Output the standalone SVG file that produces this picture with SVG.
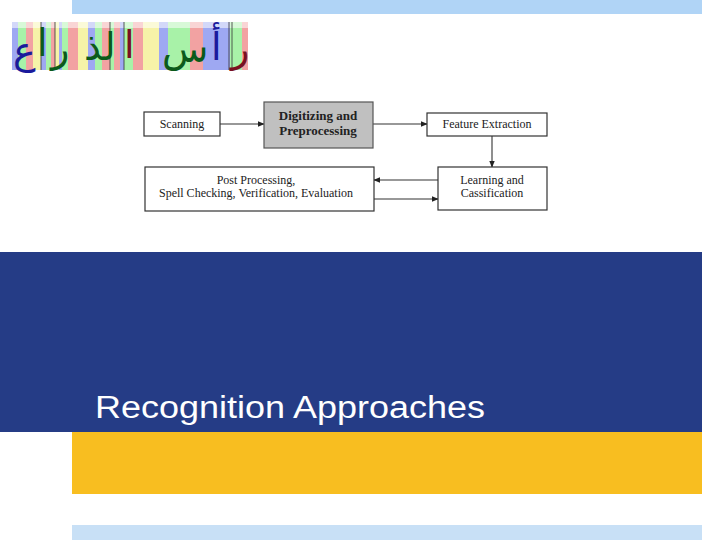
<svg xmlns="http://www.w3.org/2000/svg" width="720" height="540" viewBox="0 0 720 540">
<style>
.box{fill:#fff;stroke:#333;stroke-width:1.2}
.gbox{fill:#c0c0c0;stroke:#555;stroke-width:1.2}
.lbl{font-family:"Liberation Serif","Times New Roman",serif;font-size:12px;fill:#222;text-anchor:middle}
.blbl{font-family:"Liberation Serif","Times New Roman",serif;font-size:13px;font-weight:bold;fill:#222;text-anchor:middle}
.conn{stroke:#333;stroke-width:1.1;fill:none;marker-end:url(#ah)}
.ar{font-family:"DejaVu Sans","Noto Sans",sans-serif;font-size:38px}
.B{fill:#9ea8f2}.G{fill:#a8f2a8}.R{fill:#f2a2a2}.Y{fill:#f6f3a8}
.sep{stroke:#333;stroke-width:0.8}
</style>
<defs>
<marker id="ah" viewBox="0 0 10 10" refX="9" refY="5" markerWidth="7" markerHeight="7" markerUnits="userSpaceOnUse" orient="auto">
<path d="M0,1 L10,5 L0,9 z" fill="#222"/>
</marker>
</defs>
<rect width="720" height="540" fill="#fff"/>
<g id="bands">
<rect x="72" y="0" width="630" height="14" fill="#b0d4f6"/>
<rect x="0" y="252" width="702" height="180" fill="#253c86"/>
<rect x="72" y="432" width="630" height="62" fill="#f8be20"/>
<rect x="72" y="525" width="630" height="15" fill="#c8e0f6"/>
</g>
<g id="arabic-sample">
<rect x="12" y="22" width="238" height="56" fill="#fff"/>
<rect class="B" x="12" y="22" width="6" height="48"/>
<rect class="G" x="18" y="22" width="8" height="48"/>
<rect class="R" x="26" y="22" width="7" height="48"/>
<rect class="Y" x="33" y="22" width="8" height="48"/>
<rect class="B" x="41" y="22" width="5" height="48"/>
<rect class="G" x="46" y="22" width="5" height="48"/>
<rect class="R" x="51" y="22" width="4" height="48"/>
<rect class="Y" x="55" y="22" width="4" height="48"/>
<rect class="B" x="59" y="22" width="3" height="48"/>
<rect class="G" x="62" y="22" width="6" height="48"/>
<rect class="R" x="68" y="22" width="10" height="48"/>
<rect class="Y" x="78" y="22" width="10" height="48"/>
<rect class="B" x="88" y="22" width="7" height="48"/>
<rect class="G" x="95" y="22" width="7" height="48"/>
<rect class="R" x="102" y="22" width="8" height="48"/>
<rect class="G" x="110" y="22" width="4" height="48"/>
<rect class="R" x="114" y="22" width="6" height="48"/>
<rect class="B" x="120" y="22" width="4" height="48"/>
<rect class="G" x="124" y="22" width="9" height="48"/>
<rect class="R" x="133" y="22" width="10" height="48"/>
<rect class="Y" x="143" y="22" width="16" height="48"/>
<rect class="B" x="159" y="22" width="9" height="48"/>
<rect class="G" x="168" y="22" width="22" height="48"/>
<rect class="R" x="190" y="22" width="13" height="48"/>
<rect class="B" x="203" y="22" width="27" height="48"/>
<rect class="G" x="230" y="22" width="12" height="48"/>
<rect class="R" x="242" y="22" width="6" height="48"/>
<rect x="12" y="22" width="236" height="6" fill="#fff" opacity="0.55"/>
<line class="sep" x1="41" y1="22" x2="41" y2="70"/>
<line class="sep" x1="55" y1="22" x2="55" y2="70"/>
<line class="sep" x1="110" y1="22" x2="110" y2="70"/>
<line class="sep" x1="124" y1="22" x2="124" y2="70"/>
<line class="sep" x1="229" y1="22" x2="229" y2="70"/>
<line class="sep" x1="232" y1="22" x2="232" y2="70"/>
<text class="ar" x="13" y="64" fill="#1a1a9c">ع</text>
<text class="ar" x="37" y="56" fill="#0b5a1a">ا</text>
<text class="ar" x="51" y="62" fill="#0b5a1a">ر</text>
<text class="ar" x="84" y="60" fill="#0b5a1a">لذ</text>
<text class="ar" x="124" y="58" fill="#7a1020">ا</text>
<text class="ar" x="162" y="62" fill="#0b5a1a">س</text>
<text class="ar" x="211" y="60" fill="#1a1a9c">أ</text>
<text class="ar" x="231" y="62" fill="#7a1020">ر</text>
</g>
<g id="connectors">
<line class="conn" x1="220" y1="124" x2="264" y2="124"/>
<line class="conn" x1="373" y1="124" x2="427" y2="124"/>
<line class="conn" x1="492" y1="136" x2="492" y2="167"/>
<line class="conn" x1="438" y1="180" x2="374" y2="180"/>
<line class="conn" x1="374" y1="199" x2="438" y2="199"/>
</g>
<g id="scanning">
<rect class="box" x="144" y="112" width="76" height="24"/>
<text class="lbl" x="182" y="128">Scanning</text>
</g>
<g id="digitizing">
<rect class="gbox" x="264" y="102" width="109" height="46"/>
<text class="blbl" x="318" y="120">Digitizing and</text>
<text class="blbl" x="318" y="135">Preprocessing</text>
</g>
<g id="feature">
<rect class="box" x="427" y="113" width="120" height="23"/>
<text class="lbl" x="487" y="128">Feature Extraction</text>
</g>
<g id="learning">
<rect class="box" x="438" y="167" width="109" height="43"/>
<text class="lbl" x="492" y="184">Learning and</text>
<text class="lbl" x="492" y="197">Cassification</text>
</g>
<g id="post">
<rect class="box" x="145" y="167" width="229" height="44"/>
<text class="lbl" x="256" y="184">Post Processing,</text>
<text class="lbl" x="256" y="197">Spell Checking, Verification, Evaluation</text>
</g>
<g id="title">
<text x="95" y="418" font-family="'Liberation Sans',Arial,sans-serif" font-size="31" fill="#fff" textLength="390" lengthAdjust="spacingAndGlyphs">Recognition Approaches</text>
</g>
</svg>
